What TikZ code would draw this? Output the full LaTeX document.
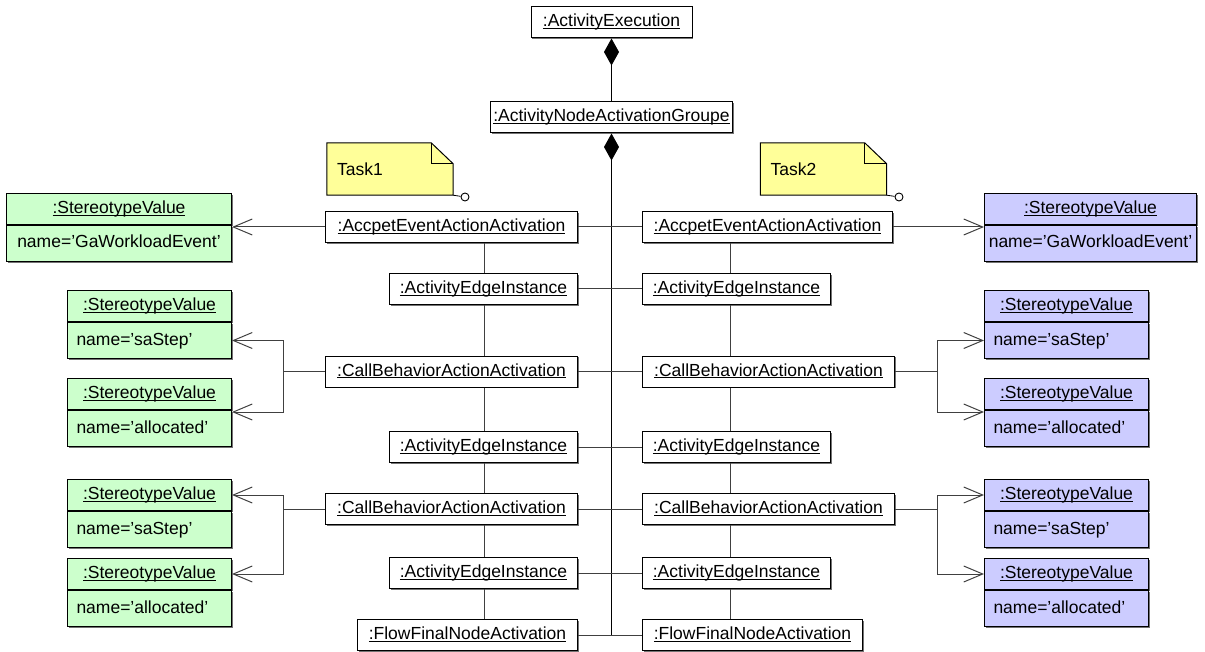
\documentclass[tikz,border=0pt]{standalone}
\usepackage{fontspec}
\setmainfont{Liberation Sans}
\usetikzlibrary{arrows.meta,positioning,shadows,backgrounds}
\definecolor{svgreen}{RGB}{204,255,204}
\definecolor{svblue}{RGB}{204,204,255}
\definecolor{notefill}{RGB}{255,255,153}
\newcommand\objname[1]{\underline{\smash{#1}}}
\tikzset{
  boxshadow/.style={drop shadow={shadow xshift=1.4pt,shadow yshift=-1.4pt,fill=black!55,opacity=1}},
  obj/.style={draw,fill=white,line width=1pt,minimum height=31pt,inner xsep=2pt,inner ysep=0pt,
    text height=12.6pt,text depth=3.6pt,boxshadow},
  svhead/.style={obj,fill=#1},
  svbody/.style={obj,fill=#1,minimum height=36pt,align=left},
  notebox/.style={minimum width=126pt,minimum height=52pt,text width=106pt,align=left,inner sep=0pt},
  pin/.style={circle,draw,fill=white,line width=0.9pt,inner sep=0pt,minimum size=8pt},
  link/.style={draw=black!75,line width=1pt},
  svarrow/.style={link,-{Straight Barb[length=19pt,width=16pt]}},
  whole/.style={draw=black,line width=1pt,{Diamond[length=27pt,width=15pt]}-},
}
\begin{document}
\begin{tikzpicture}[x=1pt,y=-1pt,font=\fontsize{17.5}{21}\selectfont]
  \useasboundingbox (0,0) rectangle (1205,652);
  % execution and group
  \node[obj,minimum width=161pt] (exec) at (611.5,22.5) {\objname{:ActivityExecution}};
  \node[obj,minimum width=242pt] (group) at (611.5,117.5) {\objname{:ActivityNodeActivationGroupe}};
  \draw[whole] (exec.south) -- (group.north);

  % task 1 column (right aligned)
  \node[obj,minimum width=252pt,anchor=east] (accL) at (578,227) {\objname{:AccpetEventActionActivation}};
  \node[obj,minimum width=188pt,anchor=east] (edgeLa) at (578,289) {\objname{:ActivityEdgeInstance}};
  \node[obj,minimum width=252pt,anchor=east] (callLa) at (578,371.5) {\objname{:CallBehaviorActionActivation}};
  \node[obj,minimum width=188pt,anchor=east] (edgeLb) at (578,447) {\objname{:ActivityEdgeInstance}};
  \node[obj,minimum width=252pt,anchor=east] (callLb) at (578,509) {\objname{:CallBehaviorActionActivation}};
  \node[obj,minimum width=188pt,anchor=east] (edgeLc) at (578,573) {\objname{:ActivityEdgeInstance}};
  \node[obj,minimum width=220pt,anchor=east] (flowL) at (578,635) {\objname{:FlowFinalNodeActivation}};

  % task 2 column (left aligned)
  \node[obj,minimum width=250pt,anchor=west] (accR) at (642,227) {\objname{:AccpetEventActionActivation}};
  \node[obj,minimum width=188pt,anchor=west] (edgeRa) at (642,289) {\objname{:ActivityEdgeInstance}};
  \node[obj,minimum width=252pt,anchor=west] (callRa) at (642,371.5) {\objname{:CallBehaviorActionActivation}};
  \node[obj,minimum width=188pt,anchor=west] (edgeRb) at (642,447) {\objname{:ActivityEdgeInstance}};
  \node[obj,minimum width=252pt,anchor=west] (callRb) at (642,509) {\objname{:CallBehaviorActionActivation}};
  \node[obj,minimum width=188pt,anchor=west] (edgeRc) at (642,573) {\objname{:ActivityEdgeInstance}};
  \node[obj,minimum width=220pt,anchor=west] (flowR) at (642,635) {\objname{:FlowFinalNodeActivation}};

  % spines
  \coordinate (lspine) at (484,0);
  \coordinate (rspine) at (730,0);
  \draw[whole] (group.south) -- (group.south |- flowL.east);
  \foreach \a/\b in {accL/edgeLa,edgeLa/callLa,callLa/edgeLb,edgeLb/callLb,callLb/edgeLc,edgeLc/flowL}
    \draw[link] (lspine |- \a.south) -- (lspine |- \b.north);
  \foreach \a/\b in {accR/edgeRa,edgeRa/callRa,callRa/edgeRb,edgeRb/callRb,callRb/edgeRc,edgeRc/flowR}
    \draw[link] (rspine |- \a.south) -- (rspine |- \b.north);
  \foreach \l/\r in {accL/accR,edgeLa/edgeRa,callLa/callRa,edgeLb/edgeRb,callLb/callRb,edgeLc/edgeRc,flowL/flowR}
    \draw[link] (\l.east) -- (\r.west);

  % notes
  \node[notebox] (taskA) at (390,169) {Task1};
  \node[notebox] (taskB) at (823.5,169) {Task2};
  \begin{scope}[on background layer]
    \foreach \n in {taskA,taskB}{
      \filldraw[fill=notefill,line width=1pt] (\n.south west) -- (\n.north west) -- ([xshift=-22pt]\n.north east)
        -- ([yshift=-21pt]\n.north east) -- (\n.south east) -- cycle;
      \draw[line width=1pt] ([xshift=-22pt]\n.north east) |- ([yshift=-21pt]\n.north east);
    }
  \end{scope}
  \node[pin] (pinA) at (465,197) {};
  \node[pin] (pinB) at (899,197) {};
  \draw[line width=0.8pt] (taskA.south east) -- (pinA);
  \draw[line width=0.8pt] (taskB.south east) -- (pinB);

  % stereotype values, task 1
  \node[svhead=svgreen,minimum width=225pt,anchor=north east] (svGaLh) at (232,193) {\objname{:StereotypeValue}};
  \node[svbody=svgreen,minimum width=225pt,below=0pt of svGaLh] (svGaLb) {name='GaWorkloadEvent'};
  \node[svhead=svgreen,minimum width=164pt,anchor=north east] (svSaLah) at (232,290) {\objname{:StereotypeValue}};
  \node[svbody=svgreen,text width=146pt,inner xsep=9pt,below=0pt of svSaLah] (svSaLab) {name='saStep'};
  \node[svhead=svgreen,minimum width=164pt,anchor=north east] (svAlLah) at (232,378) {\objname{:StereotypeValue}};
  \node[svbody=svgreen,text width=146pt,inner xsep=9pt,below=0pt of svAlLah] (svAlLab) {name='allocated'};
  \node[svhead=svgreen,minimum width=164pt,anchor=north east] (svSaLbh) at (232,479) {\objname{:StereotypeValue}};
  \node[svbody=svgreen,text width=146pt,inner xsep=9pt,below=0pt of svSaLbh] (svSaLbb) {name='saStep'};
  \node[svhead=svgreen,minimum width=164pt,anchor=north east] (svAlLbh) at (232,558) {\objname{:StereotypeValue}};
  \node[svbody=svgreen,text width=146pt,inner xsep=9pt,below=0pt of svAlLbh] (svAlLbb) {name='allocated'};

  % stereotype values, task 2
  \node[svhead=svblue,minimum width=212pt,anchor=north west] (svGaRh) at (984,193) {\objname{:StereotypeValue}};
  \node[svbody=svblue,minimum width=212pt,below=0pt of svGaRh] (svGaRb) {name='GaWorkloadEvent'};
  \node[svhead=svblue,minimum width=164pt,anchor=north west] (svSaRah) at (984,290) {\objname{:StereotypeValue}};
  \node[svbody=svblue,text width=146pt,inner xsep=9pt,below=0pt of svSaRah] (svSaRab) {name='saStep'};
  \node[svhead=svblue,minimum width=164pt,anchor=north west] (svAlRah) at (984,378) {\objname{:StereotypeValue}};
  \node[svbody=svblue,text width=146pt,inner xsep=9pt,below=0pt of svAlRah] (svAlRab) {name='allocated'};
  \node[svhead=svblue,minimum width=164pt,anchor=north west] (svSaRbh) at (984,479) {\objname{:StereotypeValue}};
  \node[svbody=svblue,text width=146pt,inner xsep=9pt,below=0pt of svSaRbh] (svSaRbb) {name='saStep'};
  \node[svhead=svblue,minimum width=164pt,anchor=north west] (svAlRbh) at (984,558) {\objname{:StereotypeValue}};
  \node[svbody=svblue,text width=146pt,inner xsep=9pt,below=0pt of svAlRbh] (svAlRbb) {name='allocated'};

  % stereotype links
  \coordinate (jLa) at (283,371.5);
  \coordinate (jLb) at (283,509);
  \coordinate (jRa) at (937,371.5);
  \coordinate (jRb) at (937,509);
  \draw[svarrow] (accL.west) -- (accL.west -| svGaLb.east);
  \draw[svarrow] (accR.east) -- (accR.east -| svGaRb.west);
  \draw[link] (callLa.west) -- (jLa);
  \draw[svarrow] (jLa) |- (svSaLab.east);
  \draw[svarrow] (jLa) |- ([yshift=-2pt]svAlLah.south east);
  \draw[link] (callLb.west) -- (jLb);
  \draw[svarrow] (jLb) |- (svSaLbh.east);
  \draw[svarrow] (jLb) |- (svAlLbh.east);
  \draw[link] (callRa.east) -- (jRa);
  \draw[svarrow] (jRa) |- (svSaRab.west);
  \draw[svarrow] (jRa) |- ([yshift=-2pt]svAlRah.south west);
  \draw[link] (callRb.east) -- (jRb);
  \draw[svarrow] (jRb) |- (svSaRbh.west);
  \draw[svarrow] (jRb) |- (svAlRbh.west);
\end{tikzpicture}
\end{document}
